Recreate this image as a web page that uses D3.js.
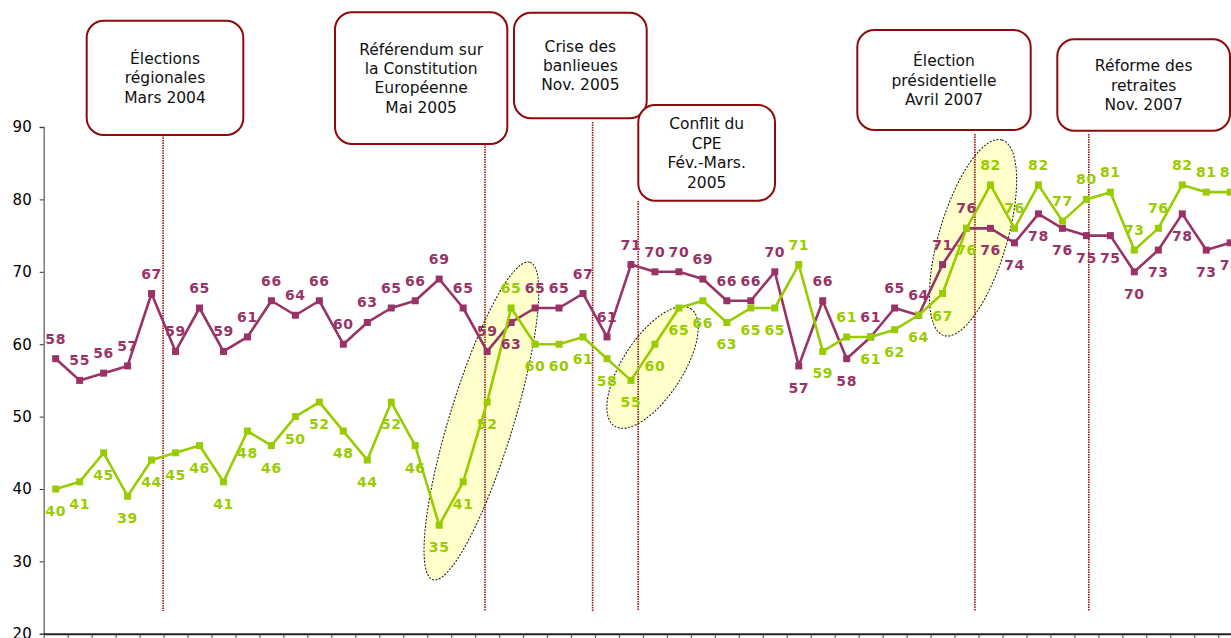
<!DOCTYPE html>
<html>
<head>
<meta charset="utf-8">
<script src="https://cdn.jsdelivr.net/npm/d3@7"></script>
<style>
  html, body { margin: 0; padding: 0; background: #fff; }
  svg { display: block; }
</style>
</head>
<body>
<svg id="chart" width="1231" height="638"></svg>
<script>
// Monthly survey series (two indicators), one value per period
const periods = d3.range(50);
const purpleValues = [58, 55, 56, 57, 67, 59, 65, 59, 61, 66,
                      64, 66, 60, 63, 65, 66, 69, 65, 59, 63,
                      65, 65, 67, 61, 71, 70, 70, 69, 66, 66,
                      70, 57, 66, 58, 61, 65, 64, 71, 76, 76,
                      74, 78, 76, 75, 75, 70, 73, 78, 73, 74];
const greenValues  = [40, 41, 45, 39, 44, 45, 46, 41, 48, 46,
                      50, 52, 48, 44, 52, 46, 35, 41, 52, 65,
                      60, 60, 61, 58, 55, 60, 65, 66, 63, 65,
                      65, 71, 59, 61, 61, 62, 64, 67, 76, 82,
                      76, 82, 77, 80, 81, 73, 76, 82, 81, 81];
const yTickValues = [20, 30, 40, 50, 60, 70, 80, 90];

// Events: text lines and their position on the period axis
const eventLabels = [
  ["Élections", "régionales", "Mars 2004"],
  ["Référendum sur", "la Constitution", "Européenne", "Mai 2005"],
  ["Crise des", "banlieues", "Nov. 2005"],
  ["Conflit du", "CPE", "Fév.-Mars.", "2005"],
  ["Élection", "présidentielle", "Avril 2007"],
  ["Réforme des", "retraites", "Nov. 2007"]
];
const eventPositions = [4.98, 18.41, 22.9, 24.8, 38.85, 43.6];

// ---- layout ----
const svg = d3.select("#chart");
const left = 43.7, step = 23.97;
const x = d3.scaleBand().domain(periods).range([left, left + step * periods.length]).padding(0);
const xPos = d3.scaleLinear().domain([0, periods.length]).range([left, left + step * periods.length]);
const y = d3.scaleLinear().domain([20, 90]).range([633.8, 127]);
const cx = i => x(i) + x.bandwidth() / 2;

const PURPLE = "#993366", GREEN = "#99CC00", FRAME = "#8E0A0A";

// Event boxes (pixel layout) and the upper end of their guide lines
const boxLayout = [
  { x0: 86.7,  y0: 20.7,  x1: 243.3,  y1: 135,   lineTop: 135 },
  { x0: 335,   y0: 12.3,  x1: 507.3,  y1: 144,   lineTop: 144 },
  { x0: 514,   y0: 12.7,  x1: 646.7,  y1: 118.3, lineTop: 122 },
  { x0: 638.3, y0: 105,   x1: 775,    y1: 200.7, lineTop: 201 },
  { x0: 857.3, y0: 30,    x1: 1030.7, y1: 130,   lineTop: 134 },
  { x0: 1057.3,y0: 39.3,  x1: 1230,   y1: 130.7, lineTop: 134 }
];

// Highlight ellipses, centred in chart coordinates
const highlights = [
  { at: 18.26, v: 49.4, rx: 166, ry: 32, angle: -73 },
  { at: 25.4,  v: 56.8, rx: 70,  ry: 30, angle: -57 },
  { at: 38.77, v: 74.7, rx: 102, ry: 34, angle: -73.5 }
];

// Highlight ellipses (behind everything)
svg.append("g").selectAll("ellipse").data(highlights).join("ellipse")
  .attr("transform", d => `translate(${xPos(d.at)},${y(d.v)}) rotate(${d.angle})`)
  .attr("rx", d => d.rx).attr("ry", d => d.ry)
  .attr("fill", "#FFFFCC")
  .attr("stroke", "#111").attr("stroke-width", 1)
  .attr("stroke-dasharray", "2,1.5");

// Event guide lines
svg.append("g").selectAll("line").data(eventPositions).join("line")
  .attr("x1", d => xPos(d)).attr("x2", d => xPos(d))
  .attr("y1", (d, i) => boxLayout[i].lineTop).attr("y2", 611)
  .attr("stroke", "#A01010").attr("stroke-width", 1.6)
  .attr("stroke-dasharray", "1.5,1");

// Y axis
const yAxis = svg.append("g").attr("transform", `translate(${left},0)`)
  .call(d3.axisLeft(y).tickValues(yTickValues).tickSize(4).tickPadding(8));
yAxis.select(".domain").attr("stroke", "#777").attr("stroke-width", 1.5);
yAxis.selectAll(".tick line").attr("stroke", "#333");
yAxis.selectAll(".tick text")
  .attr("font-family", "DejaVu Sans, Verdana, sans-serif")
  .attr("font-size", 15).attr("fill", "#000");

// X axis (period boundaries)
const xAxis = svg.append("g").attr("transform", `translate(0,${y(20)})`)
  .call(d3.axisBottom(xPos).tickValues(d3.range(0, periods.length + 1)).tickSize(5).tickFormat(""));
xAxis.select(".domain").attr("stroke", "#222").attr("stroke-width", 2)
  .attr("d", `M${left},0.5H1231`);
xAxis.selectAll(".tick line").attr("stroke", "#444");

// Series
const series = [
  { values: purpleValues, other: greenValues, color: PURPLE, labelColor: "#993366", winsTie: true },
  { values: greenValues, other: purpleValues, color: GREEN, labelColor: "#99CC00", winsTie: false }
];
const line = d3.line().x((d, i) => cx(i)).y(d => y(d));

series.forEach(s => {
  const g = svg.append("g");
  g.append("path").datum(s.values)
    .attr("d", line).attr("fill", "none")
    .attr("stroke", s.color).attr("stroke-width", 2.6).attr("stroke-linejoin", "round");
  g.selectAll("rect").data(s.values).join("rect")
    .attr("x", (d, i) => cx(i) - 3.5).attr("y", d => y(d) - 3.5)
    .attr("width", 7).attr("height", 7).attr("fill", s.color);
});

// Value labels: the upper series labelled above, the lower one below
series.forEach(s => {
  svg.append("g").selectAll("text").data(s.values).join("text")
    .attr("x", (d, i) => cx(i))
    .attr("y", (d, i) => {
      const o = s.other[i];
      const above = d > o || (d === o && s.winsTie);
      return above ? y(d) - 15 : y(d) + 27;
    })
    .attr("text-anchor", "middle")
    .attr("font-family", "DejaVu Sans, Verdana, sans-serif")
    .attr("font-weight", "bold").attr("font-size", 14)
    .attr("letter-spacing", 0.6)
    .attr("fill", s.labelColor)
    .text(d => d);
});

// Event boxes
const boxes = svg.append("g").selectAll("g").data(boxLayout).join("g");
boxes.append("rect")
  .attr("x", d => d.x0).attr("y", d => d.y0)
  .attr("width", d => d.x1 - d.x0).attr("height", d => d.y1 - d.y0)
  .attr("rx", 17).attr("ry", 17)
  .attr("fill", "#fff").attr("stroke", FRAME).attr("stroke-width", 2);
boxes.each(function (d, i) {
  const lines = eventLabels[i];
  const midX = (d.x0 + d.x1) / 2, midY = (d.y0 + d.y1) / 2;
  d3.select(this).selectAll("text").data(lines).join("text")
    .attr("x", midX)
    .attr("y", (t, k) => midY + (k - (lines.length - 1) / 2) * 19.4)
    .attr("dy", "0.36em")
    .attr("text-anchor", "middle")
    .attr("font-family", "DejaVu Sans, Verdana, sans-serif")
    .attr("font-size", 15.5).attr("fill", "#111")
    .text(t => t);
});
</script>
</body>
</html>
